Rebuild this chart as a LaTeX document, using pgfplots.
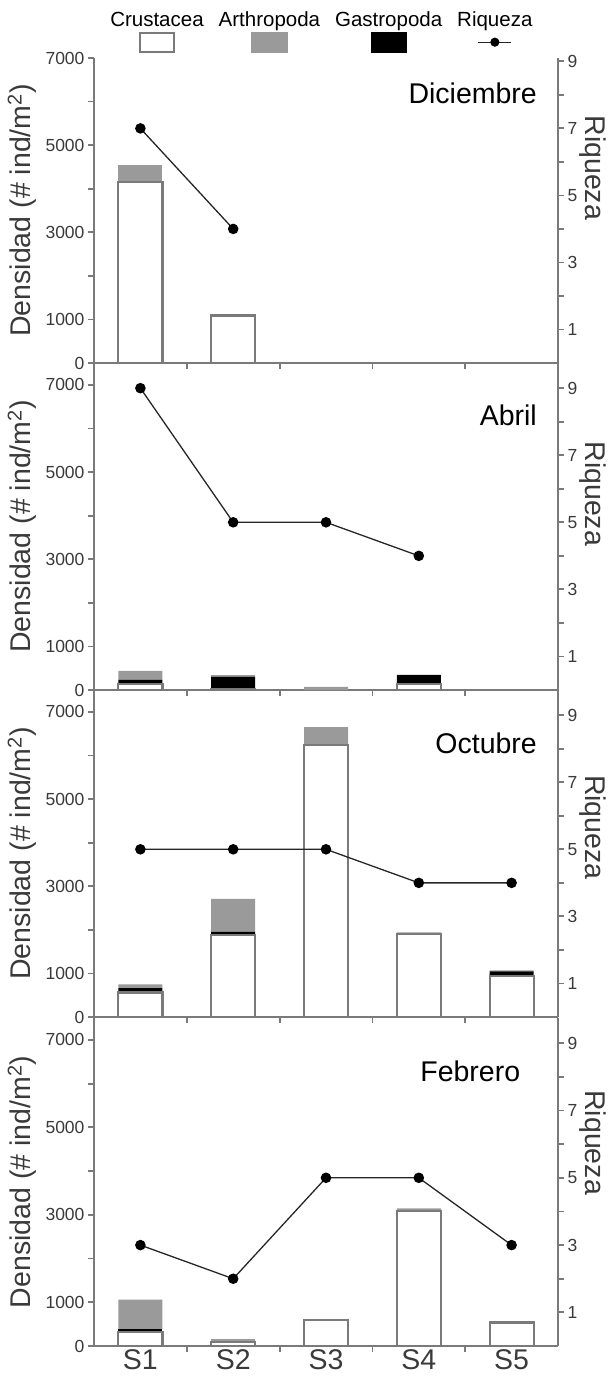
\documentclass[border=0pt]{standalone}
\usepackage{pgfplots}
\pgfplotsset{compat=1.18}
\usepackage{fontspec}
\setmainfont{Liberation Sans}

\definecolor{axgray}{HTML}{7A7A7A}
\definecolor{bargray}{HTML}{9A9A9A}
\definecolor{txtgray}{HTML}{3A3A3A}

\newcommand{\tickfont}{\fontsize{17.5}{20}\selectfont}
\newcommand{\labfont}{\fontsize{28.5}{31}\selectfont}
\newcommand{\legfont}{\fontsize{20.5}{23}\selectfont}
\newcommand{\legentry}[2]{\begin{tabular}{@{}c@{}}#1\\[-2pt]#2\end{tabular}}

\pgfplotsset{
  panel/.style={
    scale only axis, width=464pt,
    xmin=0.5, xmax=5.5, ymin=0,
    axis x line*=bottom, axis y line*=left,
    axis line style={axgray, line width=1.8pt},
    tick style={axgray, line width=1.8pt},
    tick align=outside,
    major tick length=6pt, minor tick length=6pt,
    xtick={1.5,2.5,3.5,4.5}, xticklabels={},
    ytick={0,1000,3000,5000,7000}, minor ytick={2000,4000,6000},
    ticklabel style={font=\tickfont, text=txtgray},
    /pgf/number format/assume math mode=true,
    /pgf/number format/1000 sep={},
    ylabel={Densidad (\# ind/m\textsuperscript{2})},
    ylabel style={font=\labfont, text=txtgray, at={(axis description cs:-0.155,0.5)}, anchor=center},
    ybar stacked, bar width=44pt,
    clip=false,
  },
  rich/.style={
    scale only axis, width=464pt,
    xmin=0.5, xmax=5.5, ymin=0,
    axis x line=none, axis y line*=right,
    axis line style={axgray, line width=1.8pt},
    tick style={axgray, line width=1.8pt},
    tick align=outside,
    major tick length=6pt, minor tick length=6pt,
    xtick=\empty,
    ytick={1,3,5,7,9}, minor ytick={2,4,6,8},
    ticklabel style={font=\tickfont, text=txtgray},
    /pgf/number format/assume math mode=true,
    clip=false,
  },
  crus/.style={fill=white, draw=axgray, line width=2.2pt},
  gast/.style={fill=black, draw=none},
  arth/.style={fill=bargray, draw=none},
  riq/.style={black!85, line width=1.3pt, mark=*, mark size=4.6pt, mark options={fill=black, draw=black}},
}

\begin{document}
\begin{tikzpicture}
\path[use as bounding box] (0,0) rectangle (612pt,-1377pt);

% Diciembre
\begin{axis}[panel, at={(94pt,-363pt)}, anchor=south west, height=305pt, ymax=7000]
  \addplot[crus] coordinates {(1,4160) (2,1090) (3,0) (4,0) (5,0)};
  \addplot[gast] coordinates {(1,0) (2,0) (3,0) (4,0) (5,0)};
  \addplot[arth] coordinates {(1,385) (2,0) (3,0) (4,0) (5,0)};
  \node[anchor=east, font=\labfont] at (axis cs:5.31,6180) {Diciembre};
\end{axis}
\begin{axis}[rich, at={(94pt,-363pt)}, anchor=south west, height=305pt, ymax=9.1,
  legend columns=4,
  legend style={draw=none, fill=none, at={(axis description cs:0.49,1)}, anchor=south,
    yshift=15pt, font=\legfont, inner sep=0pt,
    /tikz/every even column/.append style={column sep=13pt}, nodes={inner sep=1pt}}]
  \addplot[riq, forget plot] coordinates {(1,7) (2,4)};
  \node[rotate=-90, font=\labfont, text=txtgray] at (axis description cs:1.075,0.64) {Riqueza};
  \addlegendimage{empty legend}
  \addlegendentry{\legentry{Crustacea}{\tikz\draw[axgray, line width=1.8pt, fill=white] (0,0) rectangle (34pt,19pt);}}
  \addlegendimage{empty legend}
  \addlegendentry{\legentry{Arthropoda}{\tikz\fill[bargray] (0,0) rectangle (37pt,21pt);}}
  \addlegendimage{empty legend}
  \addlegendentry{\legentry{Gastropoda}{\tikz\fill[black] (0,0) rectangle (36pt,21pt);}}
  \addlegendimage{empty legend}
  \addlegendentry{\legentry{Riqueza}{\tikz{\path (0,0) rectangle (33pt,21pt); \draw[black!85, line width=1.3pt] (0,10.5pt) -- (33pt,10.5pt); \fill[black] (16.5pt,10.5pt) circle (4.6pt);}}}
\end{axis}

% Abril
\begin{axis}[panel, at={(94pt,-690pt)}, anchor=south west, height=327pt, ymax=7500]
  \addplot[crus] coordinates {(1,130) (2,20) (3,0) (4,130) (5,0)};
  \addplot[gast] coordinates {(1,100) (2,280) (3,0) (4,215) (5,0)};
  \addplot[arth] coordinates {(1,210) (2,40) (3,70) (4,0) (5,0)};
  \node[anchor=east, font=\labfont] at (axis cs:5.31,6300) {Abril};
\end{axis}
\begin{axis}[rich, at={(94pt,-690pt)}, anchor=south west, height=327pt, ymax=9.75]
  \addplot[riq] coordinates {(1,9) (2,5) (3,5) (4,4)};
  \node[rotate=-90, font=\labfont, text=txtgray] at (axis description cs:1.075,0.6) {Riqueza};
\end{axis}

% Octubre
\begin{axis}[panel, at={(94pt,-1017pt)}, anchor=south west, height=327pt, ymax=7500]
  \addplot[crus] coordinates {(1,560) (2,1890) (3,6230) (4,1910) (5,945)};
  \addplot[gast] coordinates {(1,100) (2,60) (3,0) (4,0) (5,100)};
  \addplot[arth] coordinates {(1,90) (2,760) (3,420) (4,30) (5,25)};
  \node[anchor=east, font=\labfont] at (axis cs:5.31,6280) {Octubre};
\end{axis}
\begin{axis}[rich, at={(94pt,-1017pt)}, anchor=south west, height=327pt, ymax=9.75]
  \addplot[riq] coordinates {(1,5) (2,5) (3,5) (4,4) (5,4)};
  \node[rotate=-90, font=\labfont, text=txtgray] at (axis description cs:1.075,0.58) {Riqueza};
\end{axis}

% Febrero
\begin{axis}[panel, at={(94pt,-1346pt)}, anchor=south west, height=328pt, ymax=7500,
  extra x ticks={1,2,3,4,5}, extra x tick labels={S1,S2,S3,S4,S5},
  extra x tick style={major tick length=0pt, xticklabel style={font=\labfont, text=txtgray}}]
  \addplot[crus] coordinates {(1,320) (2,100) (3,590) (4,3090) (5,540)};
  \addplot[gast] coordinates {(1,65) (2,0) (3,0) (4,0) (5,0)};
  \addplot[arth] coordinates {(1,675) (2,60) (3,0) (4,60) (5,0)};
  \node[anchor=east, font=\labfont] at (axis cs:5.13,6280) {Febrero};
\end{axis}
\begin{axis}[rich, at={(94pt,-1346pt)}, anchor=south west, height=328pt, ymax=9.75]
  \addplot[riq] coordinates {(1,3) (2,2) (3,5) (4,5) (5,3)};
  \node[rotate=-90, font=\labfont, text=txtgray] at (axis description cs:1.075,0.62) {Riqueza};
\end{axis}
\end{tikzpicture}
\end{document}
